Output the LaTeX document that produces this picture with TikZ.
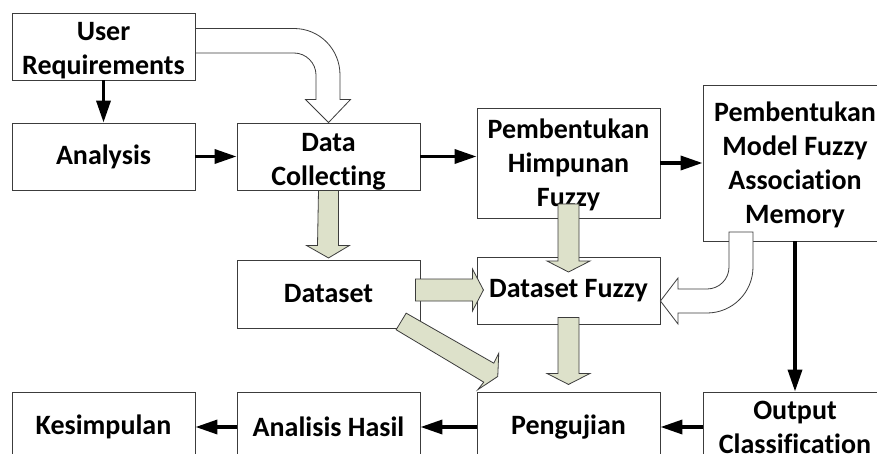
\documentclass[tikz,border=0pt]{standalone}
\usepackage{fontspec}
\setmainfont{Carlito}[Ligatures=NoCommon]
\usetikzlibrary{arrows.meta,calc}
\definecolor{blockfill}{RGB}{221,225,202}
\definecolor{edgegray}{RGB}{60,60,60}
\newcommand{\lift}[1]{\rule{0pt}{#1}}
\begin{document}
\begin{tikzpicture}[x=1pt,y=-1pt,
  box/.style={draw=edgegray, line width=0.9pt, minimum width=183pt, align=center, inner sep=0pt,
    font=\fontsize{28}{34}\selectfont\bfseries},
  blockarrow/.style={draw=edgegray, line width=0.8pt, fill=blockfill, line join=miter},
  hollowarrow/.style={draw=edgegray, line width=0.8pt, fill=white, line join=miter},
  flow/.style={line width=3.5pt, -{Triangle[length=22pt,width=14pt]}}]
\clip (0,0) rectangle (877,454);
\fill[white] (0,0) rectangle (877,454);
% boxes
\node[box, minimum height=67pt] (ur)  at (103.5,46.5)  {\lift{27pt}User\\Requirements};
\node[box, minimum height=67pt] (an)  at (103.5,156.5) {Analysis};
\node[box, minimum height=67pt] (dc)  at (328.5,156.5) {\lift{28pt}Data\\Collecting};
\node[box, minimum height=110pt] (hf) at (568.5,163)   {\lift{24pt}Pembentukan\\Himpunan\\Fuzzy};
\node[box, minimum width=184pt, minimum height=156pt] (fam) at (795,163) {\lift{24pt}Pembentukan\\Model Fuzzy\\Association\\Memory};
\node[box, minimum height=68pt] (ds)  at (328.5,294)   {Dataset};
\node[box, minimum height=67pt] (dsf) at (568.5,290.5) {Dataset Fuzzy};
\node[box, minimum height=70pt] (kes) at (103.5,427)   {Kesimpulan};
\node[box, minimum height=70pt] (ah)  at (328.5,427)   {Analisis Hasil};
\node[box, minimum height=70pt] (pe)  at (568.5,427)   {Pengujian};
\node[box, minimum width=184pt, minimum height=70pt] (oc) at (795,427) {Output\\Classification};
% block arrows
\draw[blockarrow] ($(dc.south)+(-10,0)$) -- ++(20,0) -- ++(0,55) -- ++(11,0) -- ++(-21,12.5) -- ++(-22,-12.5) -- ++(11,0) -- cycle;
\draw[blockarrow] ($(hf.center)+(-10.5,41)$) -- ++(21,0) -- ++(0,57) -- ++(11,0) -- ++(-21.5,11) -- ++(-21.5,-11) -- ++(11,0) -- cycle;
\draw[blockarrow] ($(ds.east)+(-5,-15)$) -- ++(57,0) -- ++(0,-10) -- ++(11,21) -- ++(-11,21) -- ++(0,-10) -- ++(-57,0) -- cycle;
\draw[blockarrow] ($(dsf.south)+(-10.5,-7)$) -- ++(21,0) -- ++(0,56) -- ++(11,0) -- ++(-21.5,11) -- ++(-21.5,-11) -- ++(11,0) -- cycle;
\begin{scope}[shift={(ds.south east)}]
\draw[blockarrow] (-24.3,1.3) -- (-14.3,-15.3) -- (73.3,34.7) -- (78.3,24.7) -- (77.3,48) -- (57.3,61.3) -- (63.3,53.7) -- cycle;
\end{scope}
% hollow curved arrows
\draw[hollowarrow] (ur.east |- 0,28.5) -- (294,28.5) .. controls (319.5,28.5) and (340,49) .. (340,75) -- (340,99.5)
  -- (350.5,99.5) -- (dc.north) -- (305.5,99.5) -- (316,99.5) -- (316,75)
  .. controls (316,63) and (306,53) .. (294,53) -- (ur.east |- 0,53) -- cycle;
\draw[hollowarrow] (729,232) -- (753,232) -- (753,267) .. controls (753,292.4) and (732.4,313) .. (707,313)
  -- (678,313) -- (678,324) -- (dsf.east |- 0,301) -- (678,278) -- (678,289) -- (707,289)
  .. controls (719.2,289) and (729,279.2) .. (729,267) -- cycle;
% flow arrows
\draw[flow] (ur.south) -- (an.north);
\draw[flow] (an.east) -- (dc.west);
\draw[flow] (dc.east) -- (dc.east -| hf.west);
\draw[flow] (hf.east) -- (hf.east -| fam.west);
\draw[flow] (fam.south) -- (oc.north);
\draw[flow] (oc.west) -- (pe.east);
\draw[flow] (pe.west) -- (ah.east);
\draw[flow] (ah.west) -- (kes.east);
\end{tikzpicture}
\end{document}
